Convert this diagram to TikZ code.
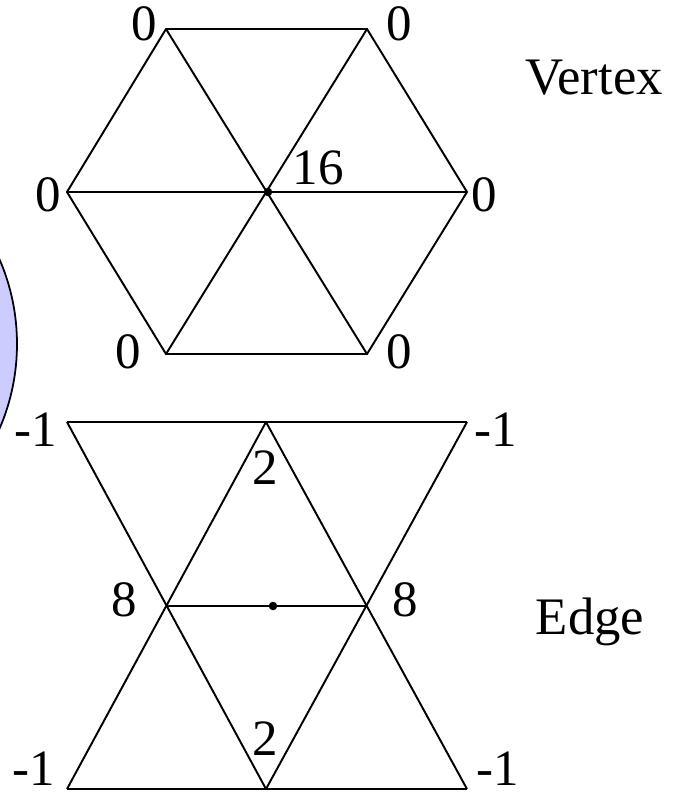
\documentclass[tikz,border=0pt]{standalone}
\usepackage{fontspec}
\setmainfont{Liberation Serif}
\usepackage{tikz}

\tikzset{
  lbl/.style={inner sep=0pt,font=\fontsize{29}{34}\selectfont},
  ttl/.style={inner sep=0pt,font=\fontsize{30}{36}\selectfont},
  mesh/.style={line width=1.1pt,line join=miter},
  pt/.style={fill=black,circle,inner sep=0pt,minimum size=0.17cm}
}

\begin{document}
\begin{tikzpicture}[x=0.02cm,y=-0.02cm]
\useasboundingbox (0,0) rectangle (691,797);
% part of the circle cut by the page edge
\begin{scope}
\clip (0,0) rectangle (691,797);
\draw[line width=1pt,fill={rgb,255:red,204;green,204;blue,255}] (-196,344) circle[radius=213];
\end{scope}

% vertex stencil
\coordinate (hv0) at (166,29);
\coordinate (hv1) at (367,29);
\coordinate (hv2) at (467,192);
\coordinate (hv3) at (367,354);
\coordinate (hv4) at (166,354);
\coordinate (hv5) at (67,192);
\coordinate (hc) at (268,192);
\draw[mesh] (hv0)--(hv1)--(hv2)--(hv3)--(hv4)--(hv5)--cycle;
\draw[mesh] (hv0)--(hv3);
\draw[mesh] (hv1)--(hv4);
\draw[mesh] (hv5)--(hv2);
\node[pt] (hdot) at (hc) {};
\node[lbl] (l0) at (144,24) {0};
\node[lbl] (l1) at (399,24) {0};
\node[lbl] (l2) at (484,195) {0};
\node[lbl] (l3) at (399,352) {0};
\node[lbl] (l4) at (128,352) {0};
\node[lbl] (l5) at (48,195) {0};
\node[lbl] (lc) at (318,168) {16};
\node[ttl] (vt) at (594,78) {Vertex};

% edge stencil
\coordinate (et0) at (67,422);
\coordinate (et1) at (266,422);
\coordinate (et2) at (467,422);
\coordinate (em0) at (166,606);
\coordinate (em1) at (366,606);
\coordinate (eb0) at (67,789);
\coordinate (eb1) at (266,789);
\coordinate (eb2) at (467,789);
\draw[mesh] (et0)--(et2);
\draw[mesh] (eb0)--(eb2);
\draw[mesh] (em0)--(em1);
\draw[mesh] (et0)--(eb1);
\draw[mesh] (et1)--(eb0);
\draw[mesh] (et1)--(eb2);
\draw[mesh] (et2)--(eb1);
\node[pt] (edot) at (273,606) {};
\node[lbl] (k0) at (36,430) {-1};
\node[lbl] (k1) at (496,430) {-1};
\node[lbl] (k2) at (34,769) {-1};
\node[lbl] (k3) at (498,769) {-1};
\node[lbl] (k4) at (124,600) {8};
\node[lbl] (k5) at (405,600) {8};
\node[lbl] (k6) at (265,468) {2};
\node[lbl] (k7) at (265,739) {2};
\node[ttl] (et) at (590,622) {Edge};
\end{tikzpicture}
\end{document}
